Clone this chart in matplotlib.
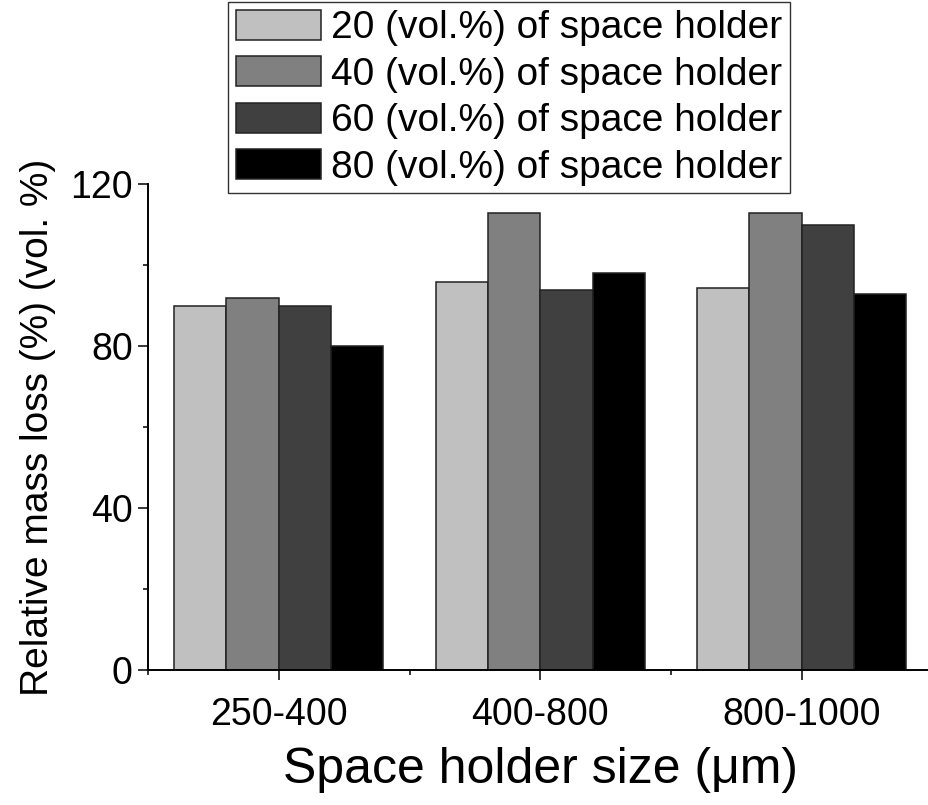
import matplotlib
matplotlib.use("Agg")
import matplotlib.pyplot as plt
import numpy as np
from matplotlib.ticker import MultipleLocator

plt.rcParams['font.family'] = ['Liberation Sans', 'DejaVu Sans']

# data
sizes = ['250-400', '400-800', '800-1000']
series_labels = ['20 (vol.%) of space holder', '40 (vol.%) of space holder',
                 '60 (vol.%) of space holder', '80 (vol.%) of space holder']
vol20 = [90, 96, 94.5]
vol40 = [92, 113, 113]
vol60 = [90, 94, 110]
vol80 = [80, 98, 93]
colors = ['#c0c0c0', '#808080', '#404040', '#000000']

fig = plt.figure(figsize=(9.29, 8.05), dpi=100)
ax = fig.add_axes([0.1593, 0.1673, 0.8445, 0.6037])

x = np.arange(len(sizes))
width = 0.2
for i, (vals, lab, col) in enumerate(zip([vol20, vol40, vol60, vol80], series_labels, colors)):
    ax.bar(x + (i - 1.5) * width, vals, width, color=col, edgecolor='#222222',
           linewidth=1.1, label=lab)

ax.set_xlim(-0.5, 2.5)
ax.set_ylim(0, 120)
ax.set_xticks(x)
ax.set_xticklabels(sizes)
ax.xaxis.set_minor_locator(MultipleLocator(1.0, offset=0.5))
ax.yaxis.set_major_locator(MultipleLocator(40))
ax.yaxis.set_minor_locator(MultipleLocator(20))

for side in ['top', 'right']:
    ax.spines[side].set_visible(False)
for side in ['left', 'bottom']:
    ax.spines[side].set_linewidth(1.4)

ax.tick_params(axis='both', which='major', direction='out', length=7, width=1.1,
               labelsize=27, pad=4)
ax.tick_params(axis='x', which='major', pad=12)
ax.tick_params(axis='both', which='minor', direction='out', length=3.5, width=1.1)

ax.set_xlabel('Space holder size (μm)', fontsize=36, labelpad=10)
ax.set_ylabel('Relative mass loss (%) (vol. %)', fontsize=28, labelpad=10)

leg = fig.legend(loc='upper left', bbox_to_anchor=(0.2454, 0.9975),
                 bbox_transform=fig.transFigure, fontsize=28, frameon=True,
                 fancybox=False, edgecolor='black', borderaxespad=0,
                 handlelength=2.2, handleheight=0.8, handletextpad=0.25,
                 labelspacing=0.26, borderpad=0.2)
leg.get_frame().set_linewidth(1.0)

fig.savefig('out.png', dpi=100)
